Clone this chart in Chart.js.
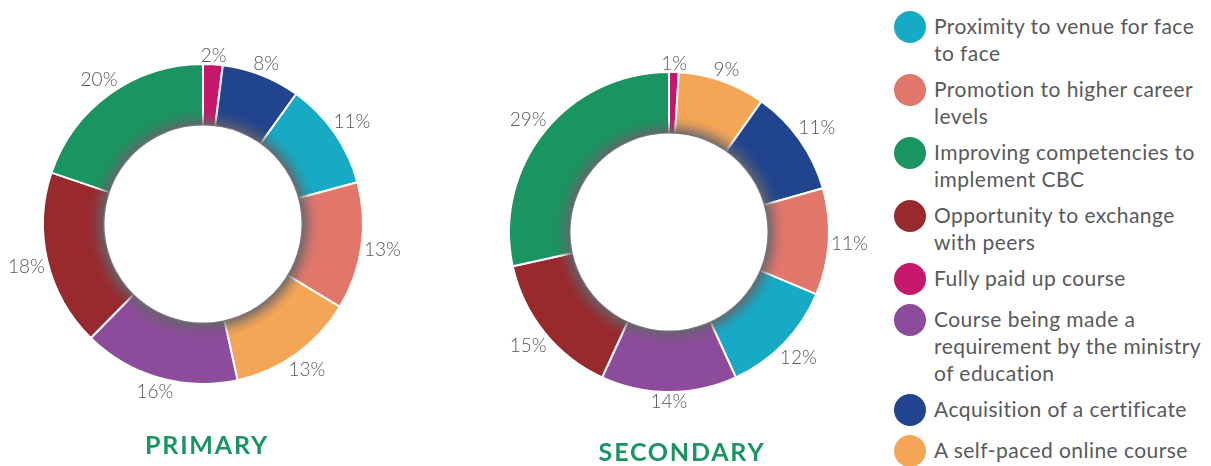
<!DOCTYPE html>
<html>
<head>
<meta charset="utf-8">
<script src="https://cdn.jsdelivr.net/npm/chart.js@4.4.1/dist/chart.umd.min.js"></script>
<style>
  html, body { margin: 0; padding: 0; background: #fff; width: 1211px; height: 466px; overflow: hidden; position: relative; }
  canvas { position: absolute; }
  #c1 { left: -7px; top: 14px; }
  #c2 { left: 459px; top: 22px; }
  .title { position: absolute; font-family: Lato, sans-serif; font-weight: 700; color: #1A9460; font-size: 25px; letter-spacing: 1.8px; transform: translateX(-50%); white-space: nowrap; }
  #t1 { left: 207px; top: 429px; }
  #t2 { left: 682px; top: 436px; }
  #legend { position: absolute; left: 894px; top: 12px; width: 317px; font-family: Lato, sans-serif; font-size: 21px; letter-spacing: 0.45px; color: #58595B; }
  .item { display: flex; align-items: flex-start; margin-bottom: 9px; }
  .dot { width: 32px; height: 32px; border-radius: 50%; flex: 0 0 32px; margin-top: -1px; margin-bottom: 1px; margin-right: 8px; }
  .txt { line-height: 27px; white-space: pre-line; }
</style>
</head>
<body>
<canvas id="c1" width="420" height="420"></canvas>
<canvas id="c2" width="420" height="420"></canvas>
<div class="title" id="t1">PRIMARY</div>
<div class="title" id="t2">SECONDARY</div>
<div id="legend"></div>
<script>
// ---- data ----
const legendLabels = [
  'Proximity to venue for face\nto face',
  'Promotion to higher career\nlevels',
  'Improving  competencies to\nimplement CBC',
  'Opportunity to exchange\nwith peers',
  'Fully paid up course',
  'Course being made a\nrequirement by the ministry\nof education',
  'Acquisition of a certificate',
  'A self-paced online course'
];
const legendColors = ['#16AAC4', '#E1766A', '#1A9460', '#982A2E', '#C5186A', '#8D4B9B', '#21448E', '#F4A556'];

const primaryCategories = [4, 6, 0, 1, 7, 5, 3, 2];
const primaryValues = [2, 8, 11, 13, 13, 16, 18, 20];

const secondaryCategories = [4, 7, 6, 1, 0, 5, 3, 2];
const secondaryValues = [1, 9, 11, 11, 12, 14, 15, 29];

// ---- legend ----
const legendEl = document.getElementById('legend');
legendLabels.forEach((lab, i) => {
  const it = document.createElement('div');
  it.className = 'item';
  const d = document.createElement('div');
  d.className = 'dot';
  d.style.background = legendColors[i];
  const t = document.createElement('div');
  t.className = 'txt';
  t.textContent = lab;
  it.appendChild(d); it.appendChild(t);
  legendEl.appendChild(it);
});

// ---- plugins ----
const ringDecor = {
  id: 'ringDecor',
  afterDatasetsDraw(chart) {
    const ctx = chart.ctx;
    const meta = chart.getDatasetMeta(0);
    if (!meta.data.length) return;
    const a0 = meta.data[0];
    const cx = a0.x, cy = a0.y, ir = a0.innerRadius, or = a0.outerRadius;
    // inner shadow
    const sw = 17;
    ctx.save();
    const g = ctx.createRadialGradient(cx, cy, ir, cx, cy, ir + sw);
    g.addColorStop(0, 'rgba(100,100,106,0.9)');
    g.addColorStop(0.3, 'rgba(100,100,106,0.55)');
    g.addColorStop(0.65, 'rgba(100,100,106,0.18)');
    g.addColorStop(1, 'rgba(100,100,106,0)');
    ctx.beginPath();
    ctx.arc(cx, cy, ir + sw, 0, Math.PI * 2, false);
    ctx.arc(cx, cy, ir, 0, Math.PI * 2, true);
    ctx.closePath();
    ctx.fillStyle = g;
    ctx.fill();
    ctx.restore();
    // percentage labels
    const vals = chart.data.datasets[0].data;
    ctx.save();
    ctx.font = '300 19px Lato, sans-serif';
    ctx.fillStyle = '#555658';
    ctx.textAlign = 'center';
    ctx.textBaseline = 'middle';
    meta.data.forEach((arc, i) => {
      const mid = (arc.startAngle + arc.endAngle) / 2;
      const txt = vals[i] + '%';
      const w = ctx.measureText(txt).width;
      const h = 14;
      const c = Math.cos(mid), s = Math.sin(mid);
      const d = or + 2 + Math.abs(c) * w / 2 + Math.abs(s) * h / 2;
      ctx.fillText(txt, cx + c * d, cy + s * d + 1);
    });
    ctx.restore();
  }
};

function makeChart(id, cats, vals) {
  return new Chart(document.getElementById(id), {
    type: 'doughnut',
    data: {
      labels: cats.map(c => legendLabels[c].replace(/\n/g, ' ')),
      datasets: [{
        data: vals,
        backgroundColor: cats.map(c => legendColors[c]),
        borderColor: '#ffffff',
        borderWidth: 2,
        hoverOffset: 0
      }]
    },
    options: {
      responsive: false,
      devicePixelRatio: 1,
      animation: false,
      cutout: '61.6%',
      layout: { padding: 49 },
      plugins: { legend: { display: false }, tooltip: { enabled: false } }
    },
    plugins: [ringDecor]
  });
}

makeChart('c1', primaryCategories, primaryValues);
makeChart('c2', secondaryCategories, secondaryValues);
</script>
</body>
</html>
